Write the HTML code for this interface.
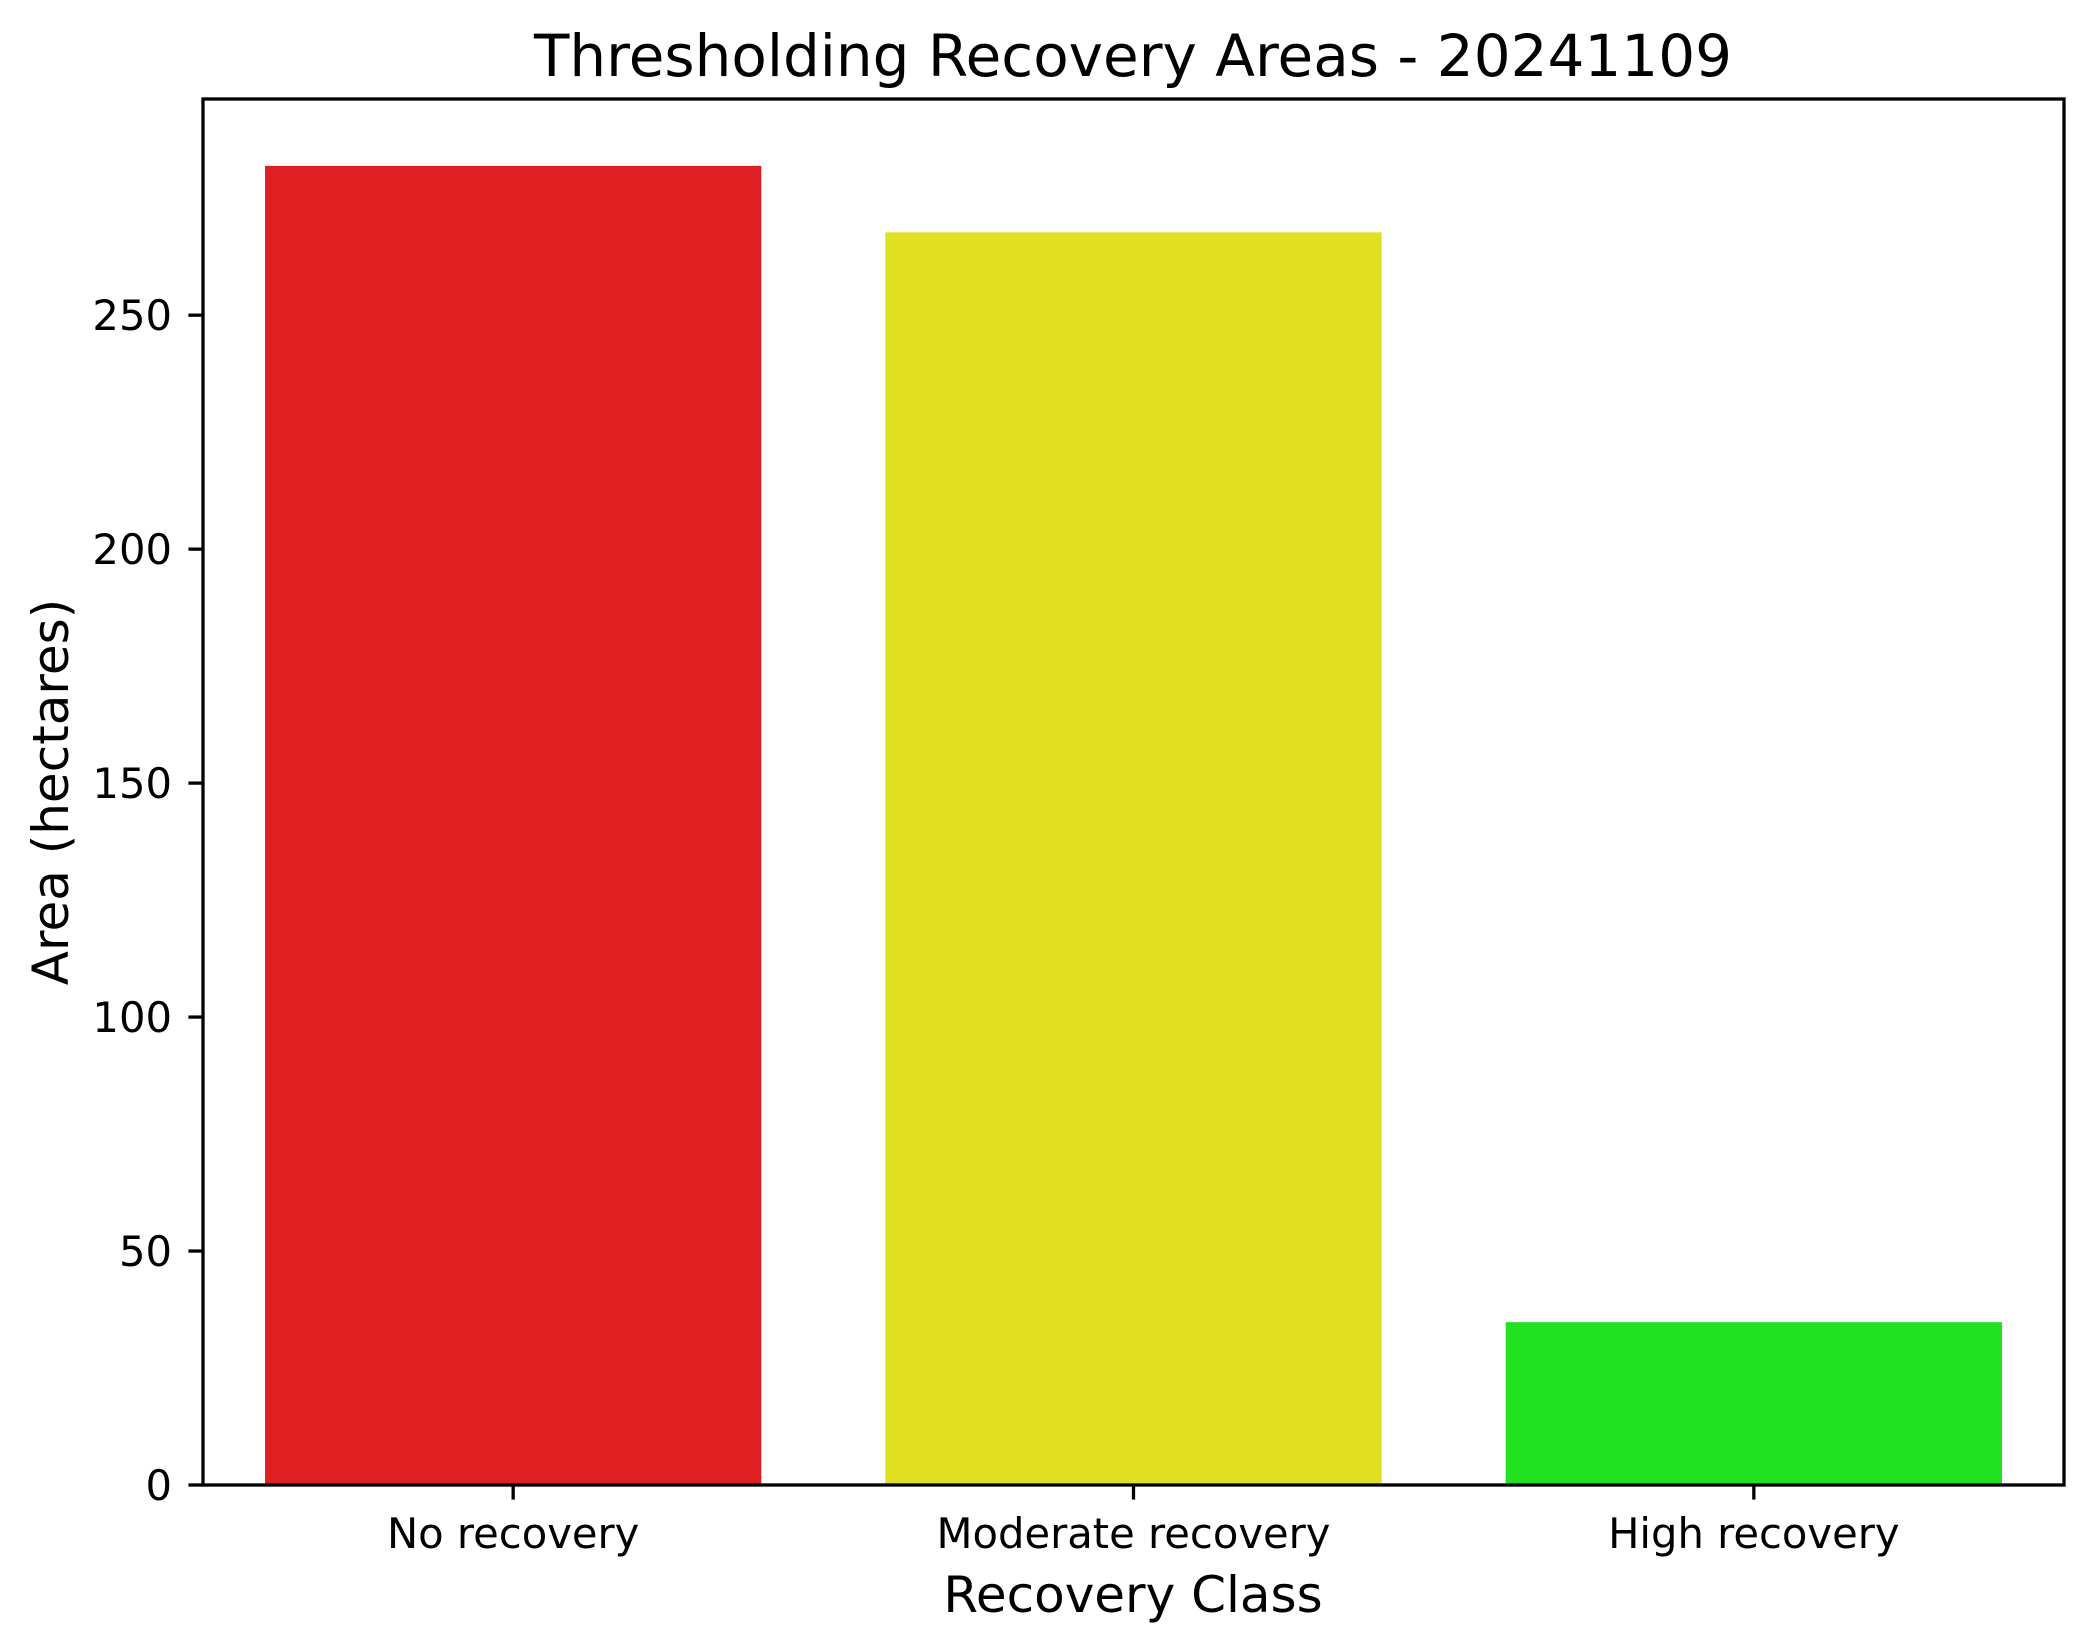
<!DOCTYPE html>
<html><head><meta charset="utf-8"><style>
html,body{margin:0;padding:0;background:#fff;}
svg{display:block;font-family:"DejaVu Sans","Liberation Sans",sans-serif;}
</style></head><body>
<svg id="chart" width="2093" height="1651" viewBox="0 0 2093 1651" xmlns="http://www.w3.org/2000/svg">
<rect x="0" y="0" width="2093" height="1651" fill="#fff"/>
<text x="1133" y="76" text-anchor="middle" font-size="58" fill="#000">Thresholding Recovery Areas - 20241109</text>
<g id="bars"></g>
<g id="yaxis"></g>
<g id="xaxis"></g>
<rect x="203" y="99" width="1861" height="1386" fill="none" stroke="#000" stroke-width="3.3"/>
<text x="1133" y="1612" text-anchor="middle" font-size="50" fill="#000">Recovery Class</text>
<text transform="translate(68,792) rotate(-90)" text-anchor="middle" font-size="50" fill="#000">Area (hectares)</text>
</svg>
<script>
const categories = ["No recovery", "Moderate recovery", "High recovery"];
const values = [281.9, 267.7, 34.8];
const colors = ["#df2023", "#e0e020", "#21e121"];
const yTicks = [0, 50, 100, 150, 200, 250];
const yTickLabels = ["0", "50", "100", "150", "200", "250"];

const NS = "http://www.w3.org/2000/svg";
const L = 203, R = 2064, T = 99, B = 1485;
const yMax = 296.2;
function yScale(v){ return B - (v / yMax) * (B - T); }
const band = (R - L) / categories.length;
function xCenter(i){ return L + band * (i + 0.5); }
const barW = band * 0.8;

const barsG = document.getElementById('bars');
categories.forEach((c, i) => {
  const r = document.createElementNS(NS, 'rect');
  const y = yScale(values[i]);
  r.setAttribute('x', xCenter(i) - barW / 2);
  r.setAttribute('y', y);
  r.setAttribute('width', barW);
  r.setAttribute('height', B - y);
  r.setAttribute('fill', colors[i]);
  
  
  barsG.appendChild(r);
});

const yG = document.getElementById('yaxis');
yTicks.forEach((t, i) => {
  const y = yScale(t);
  const ln = document.createElementNS(NS, 'line');
  ln.setAttribute('x1', L - 14.6); ln.setAttribute('x2', L);
  ln.setAttribute('y1', y); ln.setAttribute('y2', y);
  ln.setAttribute('stroke', '#000'); ln.setAttribute('stroke-width', '3.3');
  
  
  yG.appendChild(ln);
  const tx = document.createElementNS(NS, 'text');
  tx.setAttribute('x', 172); tx.setAttribute('y', y + 15);
  tx.setAttribute('text-anchor', 'end'); tx.setAttribute('font-size', '41.7');
  tx.textContent = yTickLabels[i];
  
  
  yG.appendChild(tx);
});

const xG = document.getElementById('xaxis');
categories.forEach((c, i) => {
  const x = xCenter(i);
  const ln = document.createElementNS(NS, 'line');
  ln.setAttribute('x1', x); ln.setAttribute('x2', x);
  ln.setAttribute('y1', B); ln.setAttribute('y2', B + 14.6);
  ln.setAttribute('stroke', '#000'); ln.setAttribute('stroke-width', '3.3');
  
  
  xG.appendChild(ln);
  const tx = document.createElementNS(NS, 'text');
  tx.setAttribute('x', x); tx.setAttribute('y', 1548);
  tx.setAttribute('text-anchor', 'middle'); tx.setAttribute('font-size', '41.7');
  tx.textContent = c;
  
  
  xG.appendChild(tx);
});
</script>
</body></html>
